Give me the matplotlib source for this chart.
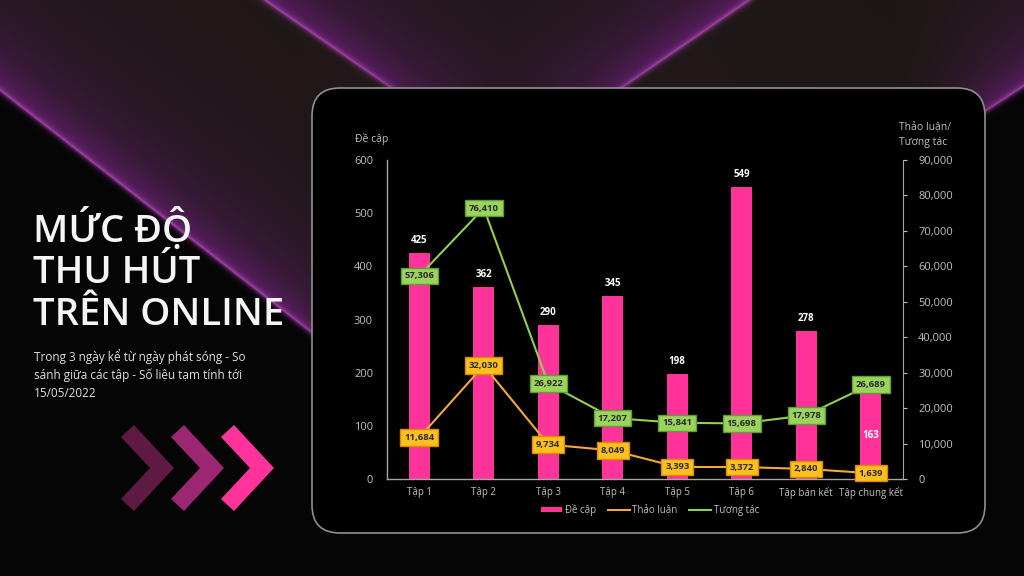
import matplotlib.pyplot as plt
import numpy as np
from matplotlib.patches import FancyBboxPatch, Polygon

plt.rcParams['font.family'] = ['Open Sans', 'DejaVu Sans']

episodes = ['Tập 1', 'Tập 2', 'Tập 3', 'Tập 4', 'Tập 5', 'Tập 6', 'Tập bán kết', 'Tập chung kết']
de_cap = [425, 362, 290, 345, 198, 549, 278, 163]
thao_luan = [11684, 32030, 9734, 8049, 3393, 3372, 2840, 1639]
tuong_tac = [57306, 76410, 26922, 17207, 15841, 15698, 17978, 26689]

PINK = '#ff3399'
ORANGE = '#f2a93b'
GREEN = '#92d050'
GREY = '#bfbfbf'

W, H = 1024, 576
fig = plt.figure(figsize=(W / 100, H / 100), dpi=100)

# background drawn in pixel coordinates
bg = fig.add_axes([0, 0, 1, 1])
bg.set_xlim(0, W)
bg.set_ylim(H, 0)
bg.axis('off')

yy, xx = np.mgrid[0:H, 0:W].astype(float)
brown = np.array([28, 23, 20]) / 255
black = np.array([5, 5, 5]) / 255
purple = np.array([100, 30, 112]) / 255
core = np.array([200, 80, 205]) / 255

# signed distances, positive on the glowing side of each edge
f1 = ((90 + 0.778 * xx) - yy) / np.hypot(1, 0.778)          # left band
fvl = (0.693 * (xx - 265) - yy) / np.hypot(1, 0.693)        # V, left edge
fvr = (-0.6875 * (xx - 748) - yy) / np.hypot(1, 0.6875)     # V, right edge
fr = ((110 - 0.658 * (xx - 986)) - yy) / np.hypot(1, 0.658)  # right band

img = np.ones((H, W, 3)) * brown
img[(f1 < 0) | (fr < 0)] = black

def smooth(v, w=15):
    return 1 / (1 + np.exp(-v / w))

a_p = np.zeros((H, W))
a_c = np.zeros((H, W))
for f, mask in [(f1, smooth(340 - xx)), (fvl, smooth(110 - yy)), (fvr, smooth(110 - yy)),
                (fr, smooth(xx - 940, 25))]:
    pos = np.clip(f, 0, None)
    glow = np.where(f > 0, 0.55 * np.exp(-pos / 28) + 0.3 * np.exp(-pos / 110), 0)
    a_p = np.maximum(a_p, glow * mask)
    a_c = np.maximum(a_c, 0.75 * np.exp(-np.abs(f) / 2.0) * mask)
img = img * (1 - a_p[..., None]) + purple * a_p[..., None]
img = img * (1 - a_c[..., None]) + core * a_c[..., None]
bg.imshow(np.clip(img, 0, 1), extent=[0, W, H, 0], aspect='auto', zorder=0)

# panel
bg.add_patch(FancyBboxPatch((312, 88), 673, 445, boxstyle='round,pad=0,rounding_size=28',
                            fc='black', ec='#8f8f8f', lw=1.2, zorder=2))

# chevrons
for x0, c in [(121, '#5e1a42'), (171, '#9b2672'), (221, PINK)]:
    y0 = 425
    pts = [(x0, y0 + 12), (x0 + 13, y0), (x0 + 53, y0 + 43), (x0 + 13, y0 + 86),
           (x0, y0 + 74), (x0 + 29, y0 + 43)]
    bg.add_patch(Polygon(pts, closed=True, fc=c, ec='none', zorder=2))

# title + subtitle
for txt, yb in [('MỨC ĐỘ', 242), ('THU HÚT', 283), ('TRÊN ONLINE', 325)]:
    bg.text(33, yb, txt, color='#f5f5f5', fontsize=27.5, fontweight='semibold', va='baseline', ha='left', zorder=3)
bg.text(34, 349, 'Trong 3 ngày kể từ ngày phát sóng - So\nsánh giữa các tập - Số liệu tạm tính tới\n15/05/2022',
        color='#e0e0e0', fontsize=8.5, va='top', ha='left', linespacing=1.45, zorder=3)

# axis titles
bg.text(372, 139, 'Đề cập', color=GREY, fontsize=7.5, ha='center', va='center', zorder=3)
bg.text(899, 135, 'Thảo luận/\nTương tác', color=GREY, fontsize=7.5, ha='left', va='center',
        linespacing=1.5, zorder=3)

# chart
ax = fig.add_axes([387 / W, 97 / H, 516 / W, 319 / H])
ax.set_facecolor('none')
x = np.arange(len(episodes))
bars = ax.bar(x, de_cap, width=0.33, color=PINK, label='Đề cập', zorder=2)
ax.set_ylim(0, 600)
ax.set_xlim(-0.5, len(episodes) - 0.5)
ax.set_yticks(range(0, 601, 100))
ax.set_xticks(x)
ax.set_xticklabels(episodes)
ax.tick_params(axis='y', length=0, colors=GREY, labelsize=8, pad=10)
ax.tick_params(axis='x', length=0, colors=GREY, labelsize=7, pad=6)
for s in ['top', 'right']:
    ax.spines[s].set_visible(False)
for s in ['left', 'bottom']:
    ax.spines[s].set_color('#a6a6a6')
    ax.spines[s].set_linewidth(1)

for i, v in enumerate(de_cap):
    if i == len(de_cap) - 1:
        ax.text(i, v / 2, str(v), color='white', fontsize=7, fontweight='bold', ha='center', va='center', zorder=3)
    else:
        ax.annotate(str(v), (i, v), xytext=(0, 9), textcoords='offset points', color='white',
                    fontsize=7, fontweight='bold', ha='center', va='center', zorder=3)

ax2 = ax.twinx()
ax2.set_ylim(0, 90000)
ax2.set_yticks(range(0, 90001, 10000))
ax2.yaxis.set_major_formatter(plt.FuncFormatter(lambda v, p: f'{int(v):,}'))
ax2.tick_params(axis='y', length=3, colors=GREY, labelsize=8, pad=8)
for s in ['top', 'left', 'bottom']:
    ax2.spines[s].set_visible(False)
ax2.spines['right'].set_color('#a6a6a6')

l1, = ax2.plot(x, thao_luan, color=ORANGE, lw=1.5, label='Thảo luận', zorder=3)
l2, = ax2.plot(x, tuong_tac, color=GREEN, lw=1.5, label='Tương tác', zorder=3)
for i in range(len(x)):
    ax2.annotate(f'{thao_luan[i]:,}', (i, thao_luan[i]), ha='center', va='center', fontsize=6.8,
                 fontweight='bold', color='#2b2b2b', zorder=4,
                 bbox=dict(boxstyle='square,pad=0.4', fc='#ffc01e', ec='#d98c00', lw=1))
    ax2.annotate(f'{tuong_tac[i]:,}', (i, tuong_tac[i]), ha='center', va='center', fontsize=6.8,
                 fontweight='bold', color='#2b2b2b', zorder=4,
                 bbox=dict(boxstyle='square,pad=0.4', fc='#9bd35f', ec='#5f9e2f', lw=1))

fig.legend([bars, l1, l2], ['Đề cập', 'Thảo luận', 'Tương tác'], loc='center',
           bbox_to_anchor=(650 / W, 1 - 510 / H), ncol=3, frameon=False, fontsize=7,
           labelcolor=GREY, handlelength=2.2, handleheight=0.5, columnspacing=1.2, handletextpad=0.3)

fig.savefig('out.png', dpi=100, facecolor='black')
